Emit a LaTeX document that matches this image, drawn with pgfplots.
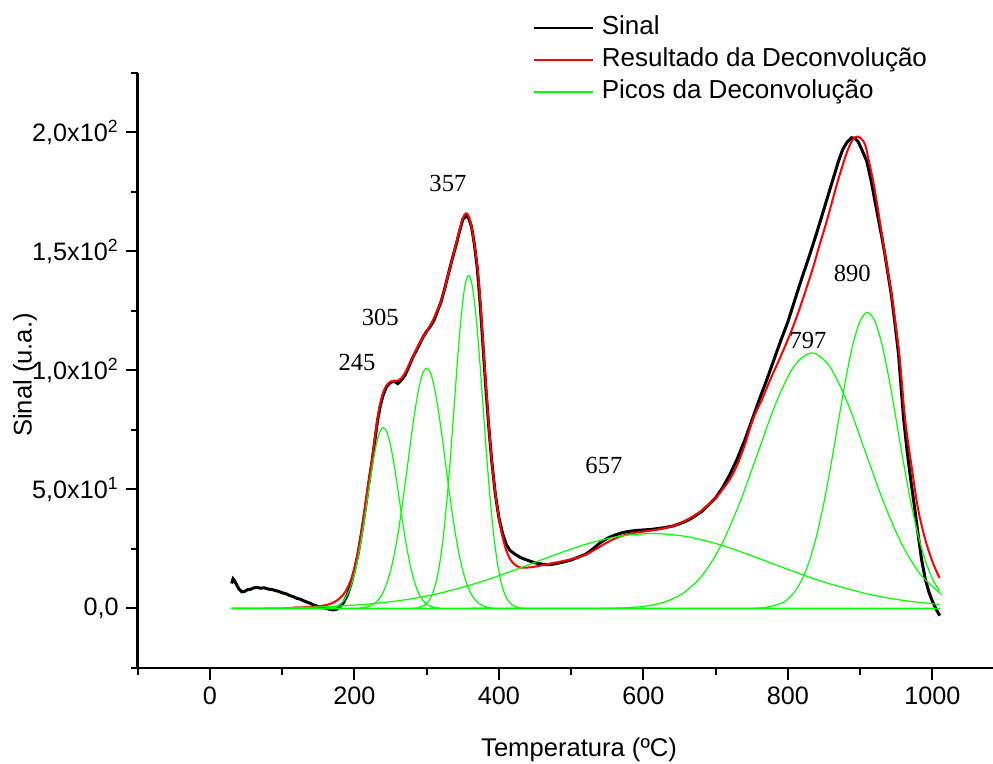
\documentclass[border=0pt]{standalone}
\usepackage{pgfplots}
\pgfplotsset{compat=1.18}
\usepackage{fontspec}
\setmainfont{Liberation Sans}
\newfontfamily\serifnum{Liberation Serif}
\definecolor{pgreen}{RGB}{0,255,0}
\definecolor{pred}{RGB}{255,0,0}
\begin{document}
\begin{tikzpicture}
\begin{axis}[
  scale only axis, width=427.65pt, height=297.5pt,
  xmin=-100, xmax=1083.8, ymin=-25, ymax=225,
  axis x line*=bottom, axis y line*=left,
  axis line style={-, line width=1.2pt},
  tick align=outside,
  major tick length=6pt, minor tick length=3.5pt,
  every tick/.style={black, line width=1pt},
  xtick={0,200,400,600,800,1000},
  xticklabels={0,200,400,600,800,1000},
  minor xtick={-100,100,300,500,700,900},
  ytick={0,50,100,150,200},
  yticklabels={{0,0},{5,0x10\textsuperscript{1}},{1,0x10\textsuperscript{2}},{1,5x10\textsuperscript{2}},{2,0x10\textsuperscript{2}}},
  minor ytick={-25,25,75,125,175,225},
  ticklabel style={font=\fontsize{12.6}{15}\selectfont},
  xlabel={Temperatura (ºC)}, ylabel={Sinal (u.a.)},
  label style={font=\fontsize{12.8}{15}\selectfont},
  xlabel style={at={(axis description cs:0.516,-0.1378)}, anchor=center},
  ylabel style={at={(axis description cs:-0.1318,0.4924)}, anchor=center},
  legend style={at={(axis description cs:0.4622,1.1000)}, anchor=north west,
    draw=none, fill=none, inner sep=0pt, row sep=2.0pt,
    font=\fontsize{13}{15}\selectfont,
    nodes={inner sep=1pt, text height=9.3pt, text depth=2.7pt},
    /tikz/every odd column/.append style={column sep=3pt}},
  legend cell align=left,
  legend image code/.code={\draw[#1,line width=0.7pt] (0pt,0pt) -- (29.5pt,0pt);},
]
\coordinate (o) at (rel axis cs:0,0);
% Sinal
\addplot[black, line width=1.5pt] coordinates {
(30,10.5)(32,12.5)(34,11.8)(36,10.5)(40,8.2)(44,7.0)(48,7.2)(52,7.9)(56,8.0)(60,8.6)(65,8.9)(70,8.5)(75,8.7)(80,8.2)(85,8.0)(90,7.6)(95,7.2)(100,6.6)(105,6.2)(110,5.5)(115,5.0)(120,4.3)(125,3.9)(130,3.2)(135,2.6)(140,2.0)(145,1.3)(150,0.8)(155,0.4)(160,0.1)(165,-0.3)(170,-0.6)(175,-0.4)(180,0.8)(185,2.5)(190,5.5)(195,10)(200,16)(205,23)(210,32)(215,42)(220,53)(224,61)(228,70)(232,79)(236,85.5)(240,90)(245,93.5)(250,95)(255,95.5)(260,94.5)(265,96)(270,98)(275,101.5)(280,105)(285,108)(290,111)(295,114)(300,116.5)(305,118.5)(310,121)(315,125)(320,129)(325,134.5)(330,140.5)(335,146.5)(340,152)(345,158)(350,163.5)(355,165)(358,164)(362,160.5)(366,153)(370,143)(374,128)(378,110)(382,92)(386,76)(390,62)(395,48)(400,38)(405,31.5)(410,27)(415,24.5)(420,23.3)(425,22.3)(430,21.4)(440,20.2)(450,19.2)(460,18.6)(470,18.4)(480,18.9)(490,19.6)(500,20.4)(510,21.6)(520,22.8)(530,25)(540,27.6)(550,29.5)(560,30.8)(570,31.8)(580,32.4)(590,32.8)(600,33)(610,33.2)(620,33.6)(630,34)(640,34.6)(650,35.6)(660,36.8)(670,38.6)(680,40.6)(690,43.5)(700,46.5)(710,51)(720,56.5)(730,63)(740,70.5)(750,79)(760,87.5)(770,95.5)(780,104)(790,112.5)(800,120.5)(812,132)(820,139.5)(830,148.5)(840,158)(849,167)(856,174)(863,181)(870,188)(876,193)(882,196)(888,197.8)(893,197.5)(897,196.2)(902,193)(909,188)(915,180)(923,167)(930,156)(934,149)(943,132)(948,120)(953,107)(960,80)(965,66)(970,54)(975,43)(980,31.5)(985,20.5)(990,12.5)(995,7)(1000,3)(1005,-0.2)(1010,-3)
};
\addlegendentry{Sinal}
% Resultado
\addplot[pred, line width=1pt, smooth] coordinates {
(113,0.4)(130,0.5)(150,0.9)(165,1.8)(175,3.2)(185,6)(190,8.5)(195,12)(200,17)(205,24)(210,33)(215,43.5)(220,54)(224,62)(228,71)(232,80)(236,86.5)(240,91)(245,94)(250,95.3)(255,95.6)(260,95.8)(265,96.8)(270,99)(275,102)(280,105)(285,108.5)(290,111.5)(295,114)(300,116.5)(305,119)(310,122)(315,125.5)(320,129.5)(325,134.5)(330,140.5)(335,146.5)(340,152.5)(345,158.5)(350,164)(354,166)(357,165.5)(361,162)(365,155)(370,144)(374,130)(378,112)(382,94)(386,77)(390,62)(395,48.5)(400,38)(405,30)(410,24.5)(415,21)(420,19)(425,17.8)(430,17.2)(440,17.2)(450,17.6)(460,18.2)(470,18.8)(480,19.4)(490,20)(500,20.7)(510,21.6)(520,22.6)(530,24.2)(540,26)(550,27.8)(560,29.3)(570,30.5)(580,31.3)(590,31.9)(600,32.3)(610,32.7)(620,33.2)(630,33.8)(640,34.6)(650,35.8)(660,37.2)(670,39)(680,41)(690,43.6)(700,46.5)(710,50.2)(720,54.5)(730,60.5)(740,68.5)(752,79.8)(765,88.5)(775,95.8)(790,106)(803,115.3)(815,125)(826,135)(835,143.5)(844,153)(852,161)(860,169.7)(868,178.5)(876,186.5)(882,192)(888,196.2)(893,198)(897,198.3)(902,197.2)(907,194.8)(912,188)(918,179.5)(925,167)(932,153)(938,142)(944,130.5)(950,117)(955,104.2)(962,80)(970,62)(980,42)(990,29)(999,20.5)(1005,16)(1010,12.8)
};
\addlegendentry{Resultado da Deconvolução}
% Picos
\addplot[pgreen, line width=0.6pt, smooth] coordinates {
(30,0)(150,0)(160,0.1)(170,0.5)(180,1.8)(185,3.3)(190,5.7)(195,9.4)(200,14.6)(205,21.4)(210,30)(215,39.8)(220,50.3)(225,60.2)(230,68.5)(235,74.1)(240,76)(245,74.1)(250,68.5)(255,60.2)(260,50.3)(265,39.8)(270,30)(275,21.4)(280,14.6)(285,9.4)(290,5.7)(295,3.3)(300,1.8)(310,0.5)(320,0.1)(330,0)(1010,0)
};
\addlegendentry{Picos da Deconvolução}
\addplot[pgreen, line width=0.6pt, smooth, forget plot] coordinates {
(30,0)(200,0)(210,0.25)(220,0.9)(230,2.7)(235,4.4)(240,7)(245,10.8)(250,15.9)(255,22.6)(260,30.9)(265,40.8)(270,51.9)(275,63.6)(280,75.1)(285,85.5)(290,93.8)(295,99.2)(300,101)(305,99.2)(310,93.8)(315,85.5)(320,75.1)(325,63.6)(330,51.9)(335,40.8)(340,30.9)(345,22.6)(350,15.9)(355,10.8)(360,7)(365,4.4)(370,2.7)(380,0.9)(390,0.25)(400,0)(1010,0)
};
\addplot[pgreen, line width=0.6pt, smooth, forget plot] coordinates {
(30,0)(268,0)(278,0.05)(288,0.3)(298,1.6)(303,3.2)(308,6.1)(313,11.1)(318,18.9)(323,30.3)(328,45.5)(333,64.1)(338,84.9)(343,105.7)(348,123.5)(353,135.7)(358,140)(363,135.7)(368,123.5)(373,105.7)(378,84.9)(383,64.1)(388,45.5)(393,30.3)(398,18.9)(403,11.1)(408,6.1)(413,3.2)(418,1.6)(428,0.3)(438,0.05)(448,0)(1010,0)
};
\addplot[pgreen, line width=0.6pt, smooth, forget plot] coordinates {
(30,0.06)(62,0.12)(112,0.32)(162,0.77)(212,1.67)(237,2.4)(262,3.3)(287,4.5)(312,6.0)(337,7.9)(362,10.0)(387,12.4)(412,15.1)(437,17.9)(462,20.8)(487,23.6)(512,26.2)(537,28.4)(562,30.1)(587,31.1)(612,31.5)(637,31.1)(662,30.1)(687,28.4)(712,26.2)(737,23.6)(762,20.8)(787,17.9)(812,15.1)(837,12.4)(862,10.0)(887,7.9)(912,6.0)(937,4.5)(962,3.3)(987,2.4)(1010,1.72)
};
\addplot[pgreen, line width=0.6pt, smooth, forget plot] coordinates {
(30,0)(508,0)(533,0.03)(558,0.13)(583,0.4)(608,1.2)(633,3.1)(658,7.1)(683,14.5)(708,26.8)(733,44.2)(758,65.1)(783,86)(808,101.6)(833,107.4)(858,101.6)(883,86)(908,65.1)(933,44.2)(958,26.8)(983,14.5)(1008,7.1)(1010,6.6)
};
\addplot[pgreen, line width=0.6pt, smooth, forget plot] coordinates {
(30,0)(730,0)(750,0.09)(770,0.5)(790,2.1)(800,4.0)(810,7.3)(820,12.5)(830,20.3)(840,31)(850,44.8)(860,61.2)(870,79)(880,96.4)(890,111.1)(900,120.9)(910,124.4)(920,120.9)(930,111.1)(940,96.4)(950,79)(960,61.2)(970,44.8)(980,31)(990,20.3)(1000,12.5)(1010,7.3)
};
% peak labels
\begin{scope}[every node/.style={font=\serifnum\fontsize{12.3}{14}\selectfont}]
\node at (axis cs:329.4,178.7) {357};
\node at (axis cs:235.8,122.2) {305};
\node at (axis cs:203.5,103.3) {245};
\node at (axis cs:545.3,60.3) {657};
\node at (axis cs:827.7,112.6) {797};
\node at (axis cs:889.0,140.6) {890};
\end{scope}
\end{axis}
\pgfresetboundingbox
\path[use as bounding box] ([shift={(-68.85pt,-48pt)}]o) rectangle ([shift={(427.65pt,334pt)}]o);
\end{tikzpicture}
\end{document}
